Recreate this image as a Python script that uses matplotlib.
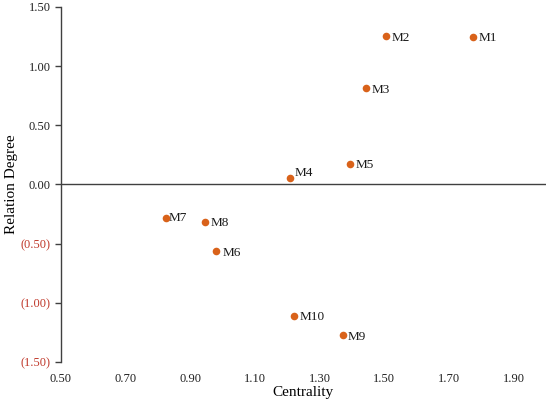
import matplotlib
matplotlib.use("Agg")
import matplotlib.pyplot as plt
from matplotlib.ticker import FuncFormatter

# values
names = ['M1', 'M2', 'M3', 'M4', 'M5', 'M6', 'M7', 'M8', 'M9', 'M10']
centrality = [1.773, 1.505, 1.445, 1.210, 1.395, 0.980, 0.825, 0.945, 1.371, 1.221]
relation = [1.248, 1.250, 0.811, 0.057, 0.175, -0.565, -0.286, -0.314, -1.274, -1.110]

x_ticks = [0.50, 0.70, 0.90, 1.10, 1.30, 1.50, 1.70, 1.90]
y_ticks = [1.50, 1.00, 0.50, 0.00, -0.50, -1.00, -1.50]

plt.rcParams['font.family'] = ['Liberation Serif', 'DejaVu Serif']

fig = plt.figure(figsize=(5.5, 4.03), dpi=100)
ax = fig.add_axes([0.110, 0.102, 0.883, 0.881])

ax.scatter(centrality, relation, s=30, color='#D9621A', zorder=3, linewidths=0)

for i, name in enumerate(names):
    dx, dy = 4, -1
    if name == 'M4':
        dx, dy = 3, 3
    elif name == 'M7':
        dx, dy = 2, 0
    elif name == 'M6':
        dx, dy = 5, -1
    ax.annotate(name, (centrality[i], relation[i]), xytext=(dx, dy),
                textcoords='offset points', ha='left', va='center',
                fontsize=9.5, color='#1a1a1a')

ax.set_xlim(0.5, 2.0)
ax.set_ylim(-1.5, 1.5)
ax.set_xticks(x_ticks)
ax.set_yticks(y_ticks)

def fmt(v, pos):
    if v < 0:
        return '({:.2f})'.format(-v)
    return '{:.2f}'.format(v)

ax.yaxis.set_major_formatter(FuncFormatter(fmt))
ax.xaxis.set_major_formatter(FuncFormatter(lambda v, p: '{:.2f}'.format(v)))

for sp in ['top', 'right', 'bottom']:
    ax.spines[sp].set_visible(False)
ax.spines['left'].set_color('#404040')
ax.spines['left'].set_linewidth(1.0)
ax.axhline(0, color='#404040', linewidth=1.0, zorder=1)

ax.tick_params(axis='x', length=0, pad=8, labelsize=9, colors='#222222')
ax.tick_params(axis='y', length=4, width=1.0, color='#404040', labelsize=9, pad=3)

for lab, v in zip(ax.get_yticklabels(), y_ticks):
    lab.set_color('#C0392B' if v < 0 else '#222222')

ax.set_xlabel('Centrality', fontsize=11, labelpad=1)
ax.set_ylabel('Relation Degree', fontsize=11, labelpad=2)

fig.savefig('out.png', dpi=100)
